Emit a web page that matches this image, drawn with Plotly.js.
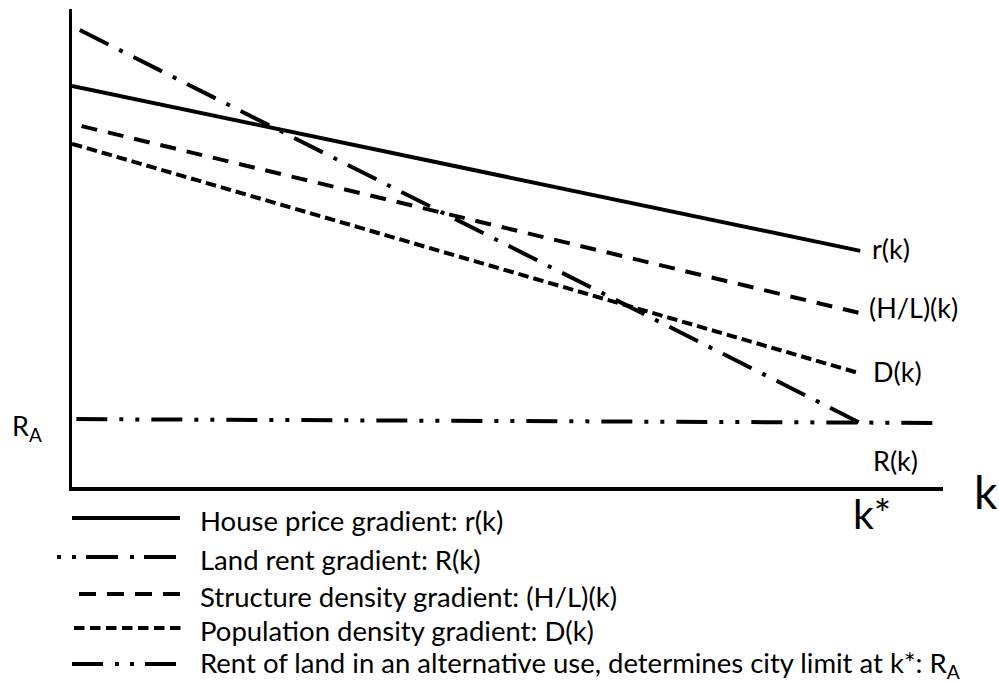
<!DOCTYPE html>
<html>
<head>
<meta charset="utf-8">
<script src="https://cdn.plot.ly/plotly-3.0.1.min.js"></script>
<style>
  html, body { margin: 0; padding: 0; background: #fff; }
  #chart { width: 999px; height: 683px; }
</style>
</head>
<body>
<div id="chart"></div>
<script>
// distance k and gradient levels (arbitrary units)
const houseK = [0, 9.05];
const housePrice = [8.39, 4.94];
const landK = [0.09, 9.05];
const landRent = [9.56, 1.34];
const structureK = [0.11, 9.04];
const structureDensity = [7.55, 3.64];
const popK = [0, 9.04];
const popDensity = [7.18, 2.38];
const altK = [0.05, 10.0];
const altRent = [1.42, 1.34];

const legendLabels = [
    'House price gradient: r(k)',
    'Land rent gradient: R(k)',
    'Structure density gradient: (H/L)(k)',
    'Population density gradient: D(k)',
    'Rent of land in an alternative use, determines city limit at k*: R<sub>A</sub>'
];

const FONT = 'Lato, "Open Sans", sans-serif';
const TXT = 27;

// plot box in page pixels, used to place the hand drawn legend
const L = 72, R = 943, T = 9, B = 487;
function px(x) { return (x - L) / (R - L); }
function py(y) { return (B - y) / (B - T); }

const dashes = {
    house: 'solid',
    land: '32px,12px,4px,12px',
    structure: '16px,11px',
    pop: '10.5px,5px',
    alt: '31px,12px,4px,12px,4px,12px'
};

function line(x, y, dash) {
    return {
        x: x, y: y, type: 'scatter', mode: 'lines',
        line: { color: 'black', width: 4, dash: dash },
        hoverinfo: 'skip'
    };
}

const traces = [
    line(houseK, housePrice, dashes.house),
    line(landK, landRent, dashes.land),
    line(structureK, structureDensity, dashes.structure),
    line(popK, popDensity, dashes.pop),
    line(altK, altRent, dashes.alt)
];

function endLabel(xs, ys, text, xshift, yshift) {
    return {
        x: xs[xs.length - 1], y: ys[ys.length - 1], xref: 'x', yref: 'y',
        text: text, showarrow: false, xanchor: 'left', yanchor: 'middle',
        xshift: xshift, yshift: yshift,
        font: { family: FONT, size: TXT, color: 'black' }
    };
}

const annotations = [
    endLabel(houseK, housePrice, 'r(k)', 10, 2),
    endLabel(structureK, structureDensity, '(H/L)(k)', 8, 6),
    endLabel(popK, popDensity, 'D(k)', 12, 2),
    endLabel(landK, landRent, 'R(k)', 11, -38),
    { x: px(10), y: py(427), xref: 'paper', yref: 'paper', text: 'R<sub>A</sub>',
      showarrow: false, xanchor: 'left', yanchor: 'middle',
      font: { family: FONT, size: TXT, color: 'black' } },
    { x: px(851), y: py(513), xref: 'paper', yref: 'paper', text: 'k*',
      showarrow: false, xanchor: 'left', yanchor: 'middle',
      font: { family: FONT, size: 41, color: 'black' } },
    { x: px(972), y: py(492), xref: 'paper', yref: 'paper', text: 'k',
      showarrow: false, xanchor: 'left', yanchor: 'middle',
      font: { family: FONT, size: 46, color: 'black' } }
];

// legend: sample strokes drawn as shapes, labels as annotations
const legendRows = [
    { y: 518, x0: 72, x1: 180, dash: 'solid' },
    { y: 557, x0: 57, x1: 180, dash: '4px,11px,4px,10px,32px,12px,4px,10px,32px' },
    { y: 594, x0: 79, x1: 180, dash: '17px,11px' },
    { y: 628, x0: 74, x1: 183, dash: '10.5px,5.5px' },
    { y: 664, x0: 72, x1: 176, dash: '31px,12px,4px,11px,4px,11px,31px' }
];

const shapes = legendRows.map(r => ({
    type: 'line', xref: 'paper', yref: 'paper',
    x0: px(r.x0), x1: px(r.x1), y0: py(r.y), y1: py(r.y),
    line: { color: 'black', width: 4, dash: r.dash }
}));

legendRows.forEach((r, i) => {
    const last = i === legendRows.length - 1;
    annotations.push({
        x: px(198), y: py(r.y + (last ? 0 : 2)), xref: 'paper', yref: 'paper',
        text: legendLabels[i], showarrow: false, xanchor: 'left', yanchor: 'middle',
        font: { family: FONT, size: 27.5, color: 'black' }
    });
});

const axisStyle = {
    showline: true, linecolor: 'black', linewidth: 3.5,
    showgrid: false, zeroline: false, showticklabels: false, ticks: '',
    fixedrange: true
};

const layout = {
    width: 999, height: 683,
    margin: { l: L, r: 999 - R, t: T, b: 683 - B },
    paper_bgcolor: 'white', plot_bgcolor: 'white',
    showlegend: false,
    xaxis: Object.assign({ range: [0, 10] }, axisStyle),
    yaxis: Object.assign({ range: [0, 10] }, axisStyle),
    shapes: shapes,
    annotations: annotations
};

Plotly.newPlot('chart', traces, layout, { displayModeBar: false, staticPlot: true });
</script>
</body>
</html>
